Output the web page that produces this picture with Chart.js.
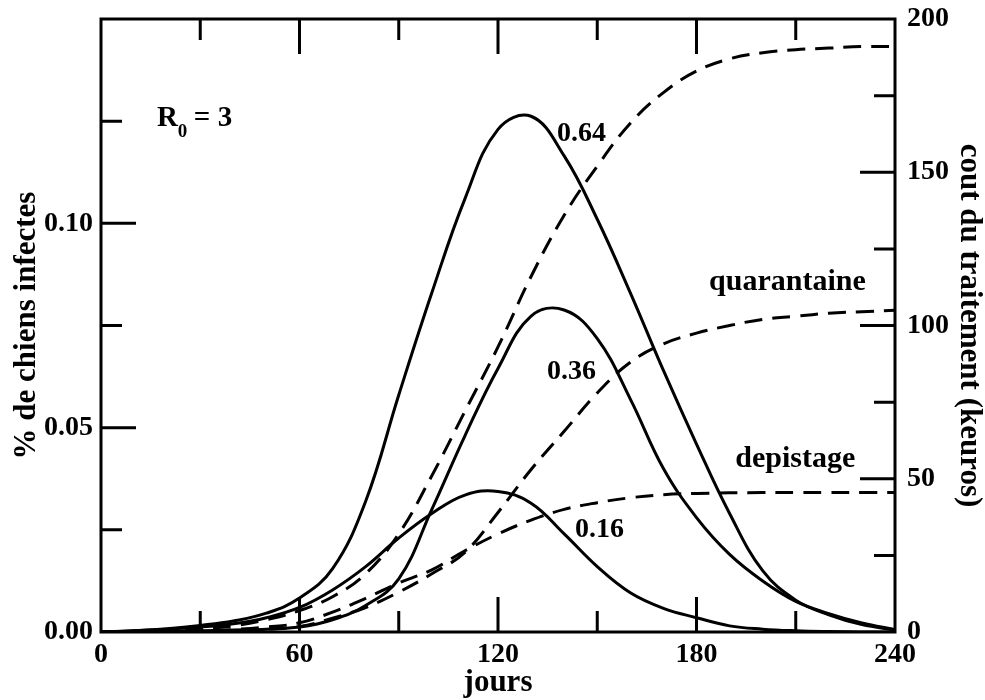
<!DOCTYPE html>
<html>
<head>
<meta charset="utf-8">
<script src="https://cdn.jsdelivr.net/npm/chart.js@4.4.1/dist/chart.umd.min.js"></script>
<style>
  html, body { margin: 0; padding: 0; background: #fff; }
  #wrap { width: 985px; height: 700px; }
</style>
</head>
<body>
<div id="wrap"><canvas id="c" width="985" height="700"></canvas></div>
<script>
// jours
const days = [0, 10, 20, 30, 40, 50, 60, 70, 80, 90, 100, 110, 120, 130, 140, 150, 160, 170, 180, 190, 200, 210, 220, 230, 240];

// % de chiens infectes (axe gauche)
const inf064 = [0, 0.0003, 0.0008, 0.0016, 0.0027, 0.0046, 0.0083, 0.0155, 0.032, 0.058, 0.083, 0.106, 0.123, 0.1262, 0.1165, 0.101, 0.083, 0.064, 0.046, 0.029, 0.015, 0.0078, 0.0042, 0.0018, 0.0005];
const inf036 = [0, 0.0001, 0.0002, 0.0003, 0.0005, 0.0007, 0.0012, 0.003, 0.0065, 0.013, 0.030, 0.048, 0.0645, 0.0773, 0.0788, 0.0718, 0.057, 0.040, 0.028, 0.019, 0.0125, 0.0075, 0.0045, 0.0022, 0.0006];
const inf016 = [0, 0.0003, 0.0007, 0.0012, 0.002, 0.0035, 0.006, 0.0103, 0.016, 0.023, 0.029, 0.0335, 0.0344, 0.0315, 0.024, 0.016, 0.0096, 0.0058, 0.0035, 0.0015, 0.0007, 0.0003, 0.0001, 0, 0];

// cout du traitement, keuros (axe droit)
const cost064 = [0, 0.1, 0.4, 1, 2, 4, 7, 11.5, 19, 32, 51, 72, 93, 116, 136, 152, 166, 176, 183, 187, 189, 190, 190.5, 191, 191];
const costQuarantaine = [0, 0, 0.1, 0.2, 0.4, 0.9, 1.8, 4.5, 8, 13, 19, 26, 39, 53, 65.5, 78, 88, 94, 97.5, 100, 102, 103, 104, 104.5, 105];
const costDepistage = [0, 0.1, 0.2, 0.4, 0.8, 1.6, 3, 6.5, 11, 16, 20.3, 26.5, 32, 36.5, 40, 42.2, 43.8, 44.8, 45.2, 45.4, 45.5, 45.5, 45.5, 45.5, 45.5];

// annotations (jours, % infectes)
const notes = [
  { text: '0.64', x: 137.8, y: 0.1201, size: 28 },
  { text: '0.36', x: 134.8, y: 0.0618, size: 28 },
  { text: '0.16', x: 143.3, y: 0.0233, size: 28 },
  { text: 'quarantaine', x: 183.8, y: 0.0838, size: 30 },
  { text: 'depistage', x: 191.7, y: 0.0404, size: 30 },
];

const FONT = "'Liberation Serif', 'Times New Roman', serif";
const tickFont = { family: FONT, size: 28, weight: 'bold', lineHeight: 0.3 };
const xTickFont = { family: FONT, size: 28, weight: 'bold', lineHeight: 1 };
const titleFont = { family: FONT, size: 31, weight: 'bold', lineHeight: 1 };

const pts = arr => days.map((d, i) => ({ x: d, y: arr[i] }));

function line(data, axis, dashed) {
  return {
    data: pts(data), yAxisID: axis,
    borderColor: '#000', borderWidth: 3, borderDash: dashed ? [18, 10] : [],
    pointRadius: 0, tension: 0.4, fill: false,
  };
}

const frame = {
  id: 'frame',
  afterDatasetsDraw(chart) {
    const { ctx, chartArea: a, scales } = chart;
    const big = 35, small = 21;
    ctx.save();
    ctx.strokeStyle = '#000';
    ctx.lineWidth = 3;
    ctx.beginPath();
    for (let d = 30; d < 240; d += 30) {
      const px = scales.x.getPixelForValue(d);
      const len = d % 60 === 0 ? big : small;
      ctx.moveTo(px, a.bottom); ctx.lineTo(px, a.bottom - len);
      ctx.moveTo(px, a.top); ctx.lineTo(px, a.top + len);
    }
    for (let k = 1; k < 6; k++) {
      const py = scales.y.getPixelForValue(k * 0.025);
      ctx.moveTo(a.left, py); ctx.lineTo(a.left + (k % 2 === 0 ? big : small), py);
    }
    for (let k = 1; k < 8; k++) {
      const py = scales.y1.getPixelForValue(k * 25);
      ctx.moveTo(a.right, py); ctx.lineTo(a.right - (k % 2 === 0 ? big : small), py);
    }
    ctx.stroke();
    ctx.strokeRect(a.left, a.top, a.right - a.left, a.bottom - a.top);

    ctx.fillStyle = '#000';
    ctx.textBaseline = 'alphabetic';
    ctx.textAlign = 'left';
    notes.forEach(n => {
      ctx.font = `bold ${n.size}px ${FONT}`;
      ctx.fillText(n.text, scales.x.getPixelForValue(n.x), scales.y.getPixelForValue(n.y));
    });
    // R0 = 3
    const rx = scales.x.getPixelForValue(16.9), ry = scales.y.getPixelForValue(0.1238);
    ctx.font = `bold 29px ${FONT}`;
    ctx.fillText('R', rx, ry);
    const w = ctx.measureText('R').width;
    ctx.font = `bold 19px ${FONT}`;
    ctx.fillText('0', rx + w, ry + 11);
    ctx.font = `bold 29px ${FONT}`;
    ctx.fillText('= 3', rx + w + 16, ry);
    ctx.restore();
  }
};

new Chart(document.getElementById('c'), {
  type: 'line',
  data: {
    datasets: [
      line(inf064, 'y', false),
      line(inf036, 'y', false),
      line(inf016, 'y', false),
      line(cost064, 'y1', true),
      line(costQuarantaine, 'y1', true),
      line(costDepistage, 'y1', true),
    ],
  },
  options: {
    responsive: false, animation: false, devicePixelRatio: 1,
    layout: { padding: { top: 19 } },
    plugins: { legend: { display: false }, tooltip: { enabled: false } },
    scales: {
      x: {
        type: 'linear', min: 0, max: 240, position: 'bottom',
        grid: { display: false, drawTicks: false }, border: { display: false },
        ticks: { stepSize: 60, color: '#000', font: xTickFont, padding: 9, maxRotation: 0, autoSkip: false },
        title: { display: true, text: 'jours', color: '#000', font: titleFont, padding: { top: 0, bottom: 2 } },
        afterFit: s => { s.height = 68; },
      },
      y: {
        min: 0, max: 0.15, position: 'left',
        grid: { display: false, drawTicks: false }, border: { display: false },
        ticks: { stepSize: 0.05, color: '#000', font: tickFont, padding: 8,
          callback: v => (v > 0.14 ? '' : v.toFixed(2)) },
        title: { display: true, text: '% de chiens infectes', color: '#000', font: titleFont, padding: { top: 11, bottom: 0 } },
        afterFit: s => { s.width = 101; },
      },
      y1: {
        min: 0, max: 200, position: 'right',
        grid: { display: false, drawTicks: false }, border: { display: false },
        ticks: { stepSize: 50, color: '#000', font: tickFont, padding: 12 },
        title: { display: true, text: 'cout du traitement (keuros)', color: '#000', font: titleFont, padding: { top: 0, bottom: 0 } },
        afterFit: s => { s.width = 90; },
      },
    },
  },
  plugins: [frame],
});
</script>
</body>
</html>
